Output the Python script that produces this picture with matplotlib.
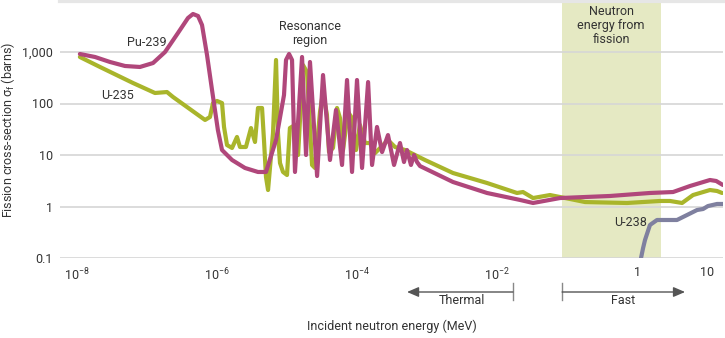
import matplotlib
matplotlib.use("Agg")
import matplotlib.pyplot as plt

plt.rcParams['font.family'] = ['Roboto', 'DejaVu Sans']
plt.rcParams['mathtext.fontset'] = 'custom'
plt.rcParams['mathtext.rm'] = 'Roboto'
plt.rcParams['mathtext.it'] = 'Roboto:italic'
plt.rcParams['mathtext.default'] = 'regular'

# ---------------- data (energy in MeV, cross-section in barns) ----------------
pu239_energy = [1.10e-8, 1.81e-8, 2.96e-8, 4.85e-8, 7.94e-8, 1.22e-7, 1.81e-7, 2.77e-7, 3.85e-7, 4.54e-7,
                5.36e-7, 6.11e-7, 7.20e-7, 8.49e-7, 1.03e-6, 1.18e-6, 1.64e-6, 2.51e-6, 3.85e-6, 5.01e-6,
                6.97e-6, 9.06e-6, 9.68e-6, 1.07e-5, 1.18e-5, 1.30e-5, 1.64e-5, 1.87e-5, 2.13e-5, 2.69e-5,
                3.27e-5, 4.11e-5, 5.01e-5, 6.11e-5, 7.20e-5, 8.49e-5, 1.00e-4, 1.18e-4, 1.44e-4, 1.64e-4,
                1.93e-4, 2.28e-4, 2.77e-4, 3.38e-4, 4.11e-4, 4.69e-4, 5.18e-4, 5.90e-4, 6.52e-4, 7.20e-4,
                7.94e-4, 2.35e-3, 7.20e-3, 2.13e-2, 3.27e-2, 7.94e-2, 0.411, 1.53, 3.27, 5.71,
                11.0, 13.5, 16.9]
pu239_sigma = [915, 800, 640, 535, 512, 611, 1000, 2340, 4570, 5470,
               5000, 3340, 875, 183, 30.5, 12.5, 8.0, 5.6, 4.68, 4.68,
               19.5, 146, 700, 915, 700, 4.68, 800, 10.0, 640, 3.91,
               357, 8.0, 74.8, 6.4, 286, 4.68, 286, 5.6, 261, 6.4,
               35, 11.4, 24.4, 6.4, 17.1, 7.3, 12.5, 6.4, 10.0, 7.3,
               6.1, 2.99, 1.83, 1.34, 1.17, 1.46, 1.60, 1.83, 1.91, 2.50,
               3.27, 3.13, 2.61]

u235_energy = [1.10e-8, 2.13e-8, 6.31e-8, 1.30e-7, 1.93e-7, 2.35e-7, 6.75e-7, 7.94e-7, 8.77e-7, 1.00e-6,
               1.18e-6, 1.26e-6, 1.39e-6, 1.64e-6, 1.93e-6, 2.13e-6, 2.59e-6, 3.06e-6, 3.49e-6, 3.85e-6,
               4.40e-6, 4.69e-6, 5.01e-6, 5.36e-6, 6.31e-6, 6.97e-6, 7.43e-6, 7.94e-6, 8.77e-6, 1.00e-5,
               1.10e-5, 1.30e-5, 1.44e-5, 1.69e-5, 1.93e-5, 2.28e-5, 2.51e-5, 2.96e-5, 3.27e-5, 3.72e-5,
               3.98e-5, 4.54e-5, 5.18e-5, 5.71e-5, 6.31e-5, 7.43e-5, 8.49e-5, 9.68e-5, 1.10e-4, 1.30e-4,
               1.53e-4, 1.81e-4, 2.77e-4, 3.49e-4, 4.85e-4, 9.35e-4, 2.35e-3, 7.20e-3, 1.93e-2, 2.35e-2,
               3.27e-2, 5.71e-2, 0.110, 0.181, 0.720, 2.13, 2.96, 4.40, 6.31, 11.0,
               13.9, 16.4]
u235_sigma = [800, 512, 250, 160, 167, 134, 47.9, 54.7, 102, 112,
              102, 35, 15.6, 13.7, 22.4, 14.3, 14.3, 33.4, 17.9, 81.8,
              81.8, 19.5, 3.74, 2.09, 26.7, 700, 26.7, 7.0, 4.68, 4.09,
              33.4, 38.3, 10.0, 560, 409, 6.4, 5.6, 68.4, 167, 59.8,
              11.4, 13.7, 81.8, 52.3, 12.5, 68.4, 52.3, 12.5, 38.3, 17.1,
              17.1, 10.9, 19.5, 14.3, 12.5, 8.0, 4.47, 2.86, 1.83, 1.91,
              1.46, 1.67, 1.40, 1.22, 1.17, 1.28, 1.28, 1.17, 1.67, 2.09,
              2.00, 1.83]

u238_energy = [1.14, 1.22, 1.30, 1.53, 1.93, 3.72, 5.18, 7.20, 8.77, 10.3, 13.9, 16.9]
u238_sigma = [0.1, 0.156, 0.224, 0.438, 0.547, 0.547, 0.684, 0.855, 0.894, 1.02, 1.12, 1.12]

x_ticks = [1e-8, 1e-6, 1e-4, 1e-2, 1, 10]
x_tick_labels = ['$10^{-8}$', '$10^{-6}$', '$10^{-4}$', '$10^{-2}$', '1', '10']
y_ticks = [0.1, 1, 10, 100, 1000]
y_tick_labels = ['0.1', '1', '10', '100', '1,000']

fission_band = (0.085, 2.2)
thermal_range = (5.18e-4, 0.0169)
fast_range = (0.085, 4.85)

# ---------------- figure ----------------
W, H = 725, 338
fig = plt.figure(figsize=(W / 100, H / 100), dpi=100)
ax = fig.add_axes([60 / W, 1 - 258 / H, 663 / W, 257.5 / H])
ax.set_xscale('log')
ax.set_yscale('log')
ax.set_xlim(5.72e-9, 16.9)
ax.set_ylim(0.1, 1e4)

text_color = '#333333'
ax.axvspan(*fission_band, color='#e5e9c3', zorder=0.5, lw=0)
for yv in y_ticks:
    ax.axhline(yv, color='#d6d6d6', lw=1.2, zorder=1)
ax.axhline(1e4, color='#e6e6e6', lw=3, zorder=1, clip_on=False)

line_kw = dict(lw=3.0, solid_joinstyle='round', solid_capstyle='round', clip_on=True)
ax.plot(u238_energy, u238_sigma, color='#7f809f', zorder=3, **line_kw)
ax.plot(u235_energy, u235_sigma, color='#a9b52b', zorder=4, **line_kw)
ax.plot(pu239_energy, pu239_sigma, color='#b0477b', zorder=5, **line_kw)

for s in ax.spines.values():
    s.set_visible(False)
ax.set_xticks(x_ticks)
ax.set_xticklabels(x_tick_labels)
ax.set_yticks(y_ticks)
ax.set_yticklabels(y_tick_labels)
ax.minorticks_off()
ax.tick_params(axis='both', length=0, labelsize=9, labelcolor=text_color)
ax.tick_params(axis='x', pad=6)
ax.tick_params(axis='y', pad=5)

fig.text(8 / W, 1 - 130 / H, 'Fission cross-section $\\sigma_f$ (barns)', rotation=90,
         ha='center', va='center', fontsize=9, color=text_color)
fig.text(392 / W, 1 - 326 / H, 'Incident neutron energy (MeV)', ha='center', va='center',
         fontsize=9, color=text_color)

# annotations
ann = dict(fontsize=9, color=text_color, ha='center', va='center')
ax.text(1.0e-7, 1500, 'Pu-239', **ann)
ax.text(3.85e-8, 140, 'U-235', **ann)
ax.text(0.82, 0.5, 'U-238', zorder=6, **ann)
ax.text(2.13e-5, 2240, 'Resonance\nregion', linespacing=1.1, **ann)
ax.text(0.426, 3200, 'Neutron\nenergy from\nfission', linespacing=1.1, **ann)

# range arrows below the axis
tr = ax.get_xaxis_transform()
ya = -34 / 257.5
y_t0, y_t1 = -25 / 257.5, -42 / 257.5
arrow_kw = dict(arrowstyle='-|>,head_length=0.7,head_width=0.3', color='#555555', lw=1.0,
                shrinkA=0, shrinkB=0)
ax.annotate('', xy=(thermal_range[0], ya), xycoords=tr, xytext=(thermal_range[1], ya),
            textcoords=tr, arrowprops=arrow_kw, annotation_clip=False)
ax.plot([thermal_range[1]] * 2, [y_t0, y_t1], transform=tr, color='#888888', lw=1.0, clip_on=False)
ax.annotate('', xy=(fast_range[1], ya), xycoords=tr, xytext=(fast_range[0], ya),
            textcoords=tr, arrowprops=arrow_kw, annotation_clip=False)
ax.plot([fast_range[0]] * 2, [y_t0, y_t1], transform=tr, color='#888888', lw=1.0, clip_on=False)
ax.text(3.16e-3, -42 / 257.5, 'Thermal', transform=tr, fontsize=9, color=text_color,
        ha='center', va='center')
ax.text(0.63, -43 / 257.5, 'Fast', transform=tr, fontsize=9, color=text_color,
        ha='center', va='center')

fig.savefig('out.png', dpi=100)
